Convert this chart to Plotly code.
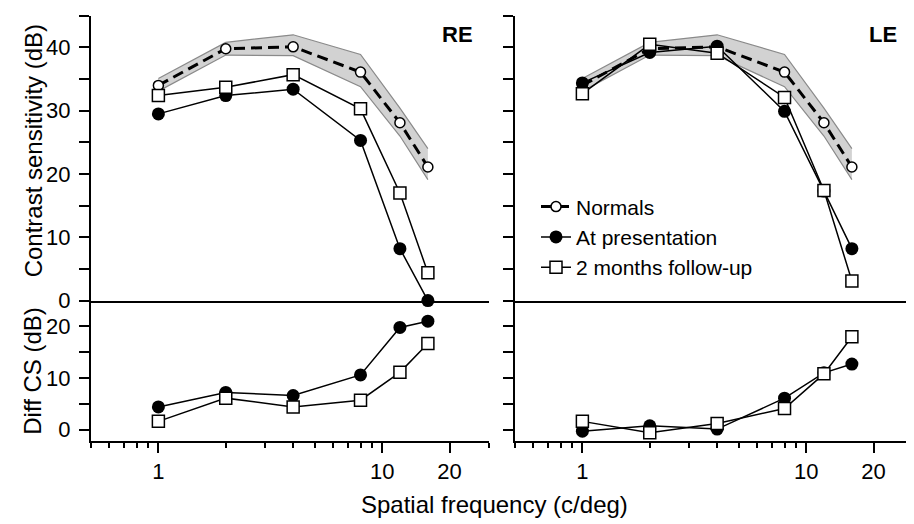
import plotly.graph_objects as go
import numpy as np

# ---- data ----
freq = [1, 2, 4, 8, 12, 16]
normals = [34.0, 39.8, 40.1, 36.1, 28.1, 21.1]
normals_upper = [35.1, 40.8, 42.0, 38.9, 30.4, 24.0]
normals_lower = [33.1, 38.8, 38.7, 33.8, 26.0, 19.1]
re_pres = [29.5, 32.4, 33.4, 25.3, 8.2, 0.0]
re_fu = [32.4, 33.7, 35.7, 30.3, 17.0, 4.4]
le_pres = [34.4, 39.2, 40.2, 29.9, 17.3, 8.2]
le_fu = [32.7, 40.5, 39.1, 32.1, 17.4, 3.1]
re_pres_diff = [4.4, 7.2, 6.6, 10.6, 19.8, 21.0]
re_fu_diff = [1.6, 6.1, 4.4, 5.7, 11.1, 16.7]
le_pres_diff = [-0.3, 0.75, 0.1, 6.1, 11.0, 12.7]
le_fu_diff = [1.6, -0.6, 1.2, 4.1, 10.8, 18.0]

x_ticks = [1, 10, 20]
x_minor = [0.5, 0.6, 0.7, 0.8, 0.9, 2, 3, 4, 5, 6, 7, 8, 9, 30]
cs_ticks = [0, 5, 10, 15, 20, 25, 30, 35, 40, 45]
cs_labels = ["0", "", "10", "", "20", "", "30", "", "40", ""]
diff_ticks = [0, 5, 10, 15, 20]
diff_labels = ["0", "", "10", "", "20"]

FONT = "Liberation Sans, Arial, Helvetica, sans-serif"
W, H = 914, 524

fig = go.Figure()

band_fill = "#d2d2d2"
band_line = "#8a8a8a"

def px_x(a, b):
    return [a / W, b / W]

def px_y(top, bottom):
    return [(H - bottom) / H, (H - top) / H]

panels = [
    ("x", "y", "x3", "y3", re_pres, re_fu, re_pres_diff, re_fu_diff, True),
    ("x2", "y2", "x4", "y4", le_pres, le_fu, le_pres_diff, le_fu_diff, False),
]

for xt, yt, xb, yb, pres, fu, pres_d, fu_d, first in panels:
    # normals band
    fig.add_trace(go.Scatter(x=freq, y=normals_lower, mode="lines",
                             line=dict(color=band_line, width=1.2),
                             showlegend=False, hoverinfo="skip", xaxis=xt, yaxis=yt))
    fig.add_trace(go.Scatter(x=freq, y=normals_upper, mode="lines", fill="tonexty",
                             fillcolor=band_fill, line=dict(color=band_line, width=1.2),
                             showlegend=False, hoverinfo="skip", xaxis=xt, yaxis=yt))
    fig.add_trace(go.Scatter(x=freq, y=normals, mode="lines+markers", name="Normals",
                             line=dict(color="black", width=3, dash="11px,6px"),
                             marker=dict(symbol="circle", size=10, color="white",
                                         line=dict(color="black", width=1.5)),
                             showlegend=not first, legendrank=1,
                             xaxis=xt, yaxis=yt, cliponaxis=False))
    fig.add_trace(go.Scatter(x=freq, y=pres, mode="lines+markers", name="At presentation",
                             line=dict(color="black", width=1.5),
                             marker=dict(symbol="circle", size=13, color="black"),
                             showlegend=not first, legendrank=2,
                             xaxis=xt, yaxis=yt, cliponaxis=False))
    fig.add_trace(go.Scatter(x=freq, y=fu, mode="lines+markers", name="2 months follow-up",
                             line=dict(color="black", width=1.5),
                             marker=dict(symbol="square", size=12, color="white",
                                         line=dict(color="black", width=1.5)),
                             showlegend=not first, legendrank=3,
                             xaxis=xt, yaxis=yt, cliponaxis=False))
    # difference panel
    fig.add_trace(go.Scatter(x=freq, y=pres_d, mode="lines+markers",
                             line=dict(color="black", width=1.5),
                             marker=dict(symbol="circle", size=13, color="black"),
                             showlegend=False, xaxis=xb, yaxis=yb, cliponaxis=False))
    fig.add_trace(go.Scatter(x=freq, y=fu_d, mode="lines+markers",
                             line=dict(color="black", width=1.5),
                             marker=dict(symbol="square", size=12, color="white",
                                         line=dict(color="black", width=1.5)),
                             showlegend=False, xaxis=xb, yaxis=yb, cliponaxis=False))

xrange = [np.log10(0.5), np.log10(30)]
left_dom = px_x(83, 481)
right_dom = px_x(507, 905)
top_dom = px_y(8, 300)
bot_dom = px_y(300, 444)

tickfont = dict(family=FONT, size=22, color="black")

def x_top(domain, anchor):
    return dict(type="log", range=xrange, domain=domain, anchor=anchor,
                showline=True, linecolor="black", linewidth=2,
                showticklabels=False, ticks="", showgrid=False, zeroline=False)

def x_bot(domain, anchor):
    return dict(type="log", range=xrange, domain=domain, anchor=anchor,
                showline=True, linecolor="black", linewidth=2,
                tickmode="array", tickvals=x_ticks, ticktext=[str(v) for v in x_ticks],
                ticks="outside", ticklen=10, tickwidth=2, tickcolor="black",
                tickfont=tickfont, showgrid=False, zeroline=False,
                minor=dict(tickmode="array", tickvals=x_minor, ticks="outside",
                           ticklen=5, tickwidth=2, tickcolor="black", showgrid=False))

def y_ax(domain, anchor, rng, tv, tt, labels):
    return dict(range=rng, domain=domain, anchor=anchor,
                showline=True, linecolor="black", linewidth=2,
                tickmode="array", tickvals=tv, ticktext=tt,
                showticklabels=labels, ticklabelstandoff=4,
                ticks="outside", ticklen=10, tickwidth=2, tickcolor="black",
                tickfont=tickfont, showgrid=False, zeroline=False)

fig.update_layout(
    width=W, height=H,
    margin=dict(l=0, r=0, t=0, b=0),
    paper_bgcolor="white", plot_bgcolor="white",
    font=dict(family=FONT, color="black"),
    xaxis=x_top(left_dom, "y"),
    xaxis2=x_top(right_dom, "y2"),
    xaxis3=x_bot(left_dom, "y3"),
    xaxis4=x_bot(right_dom, "y4"),
    yaxis=y_ax(top_dom, "x", [0, 45], cs_ticks, cs_labels, True),
    yaxis2=y_ax(top_dom, "x2", [0, 45], cs_ticks, cs_labels, False),
    yaxis3=y_ax(bot_dom, "x3", [-2.2, 25], diff_ticks, diff_labels, True),
    yaxis4=y_ax(bot_dom, "x4", [-2.2, 25], diff_ticks, diff_labels, False),
    legend=dict(x=528 / W, y=(H - 183) / H, xanchor="left", yanchor="top",
                traceorder="normal",
                bgcolor="rgba(0,0,0,0)", font=dict(family=FONT, size=21, color="black"),
                itemwidth=30, tracegroupgap=0),
    showlegend=True,
)

annos = [
    dict(text="<b>RE</b>", x=467 / W, y=(H - 27) / H, xanchor="right", yanchor="middle",
         font=dict(family=FONT, size=22, color="black"), showarrow=False),
    dict(text="<b>LE</b>", x=891 / W, y=(H - 27) / H, xanchor="right", yanchor="middle",
         font=dict(family=FONT, size=22, color="black"), showarrow=False),
    dict(text="Contrast sensitivity (dB)", x=25 / W, y=(H - 147) / H, textangle=-90,
         xanchor="center", yanchor="middle",
         font=dict(family=FONT, size=24, color="black"), showarrow=False),
    dict(text="Diff CS (dB)", x=25 / W, y=(H - 372) / H, textangle=-90,
         xanchor="center", yanchor="middle",
         font=dict(family=FONT, size=24, color="black"), showarrow=False),
    dict(text="Spatial frequency (c/deg)", x=487 / W, y=(H - 509) / H,
         xanchor="center", yanchor="middle",
         font=dict(family=FONT, size=24, color="black"), showarrow=False),
]
for a in annos:
    a.update(xref="paper", yref="paper")
fig.update_layout(annotations=annos)

fig.write_html("out.html")
